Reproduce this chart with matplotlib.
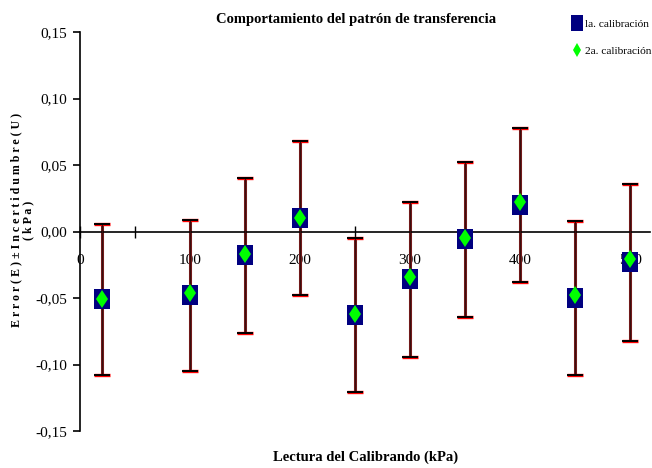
import matplotlib
matplotlib.use('Agg')
import matplotlib.pyplot as plt
from matplotlib.ticker import MultipleLocator, FuncFormatter

plt.rcParams['font.family'] = ['Liberation Serif', 'DejaVu Serif']

# Lectura del calibrando (kPa)
lectura = [20, 100, 150, 200, 250, 300, 350, 400, 450, 500]
# Error de cada calibración (kPa)
error_1a = [-0.051, -0.048, -0.018, 0.010, -0.063, -0.036, -0.006, 0.020, -0.050, -0.023]
error_2a = [-0.051, -0.046, -0.017, 0.010, -0.062, -0.034, -0.005, 0.022, -0.048, -0.021]
# Incertidumbre expandida U (kPa)
incert = [0.057, 0.057, 0.058, 0.058, 0.058, 0.058, 0.058, 0.058, 0.058, 0.059]

fig = plt.figure(figsize=(6.52, 4.68), dpi=100)
ax = fig.add_axes([0.1227, 0.079, 0.874, 0.8526])

# barras de incertidumbre: rojas debajo, negras encima
eb2 = ax.errorbar(lectura, error_1a, yerr=incert, fmt='none', ecolor='#7a1c1c',
                  elinewidth=2.2, capsize=6, capthick=2.4, zorder=2)
for c in eb2[1]:
    c.set_color('red')
    c.set_markeredgecolor('red')
eb1 = ax.errorbar(lectura, error_1a, yerr=incert, fmt='none', ecolor='#3a0e0e',
                  elinewidth=0.9, capsize=6, capthick=1.4, zorder=3)
for c in eb1[1]:
    c.set_color('black')
    c.set_markeredgecolor('black')

rect = [(-0.75, -1), (0.75, -1), (0.75, 1), (-0.75, 1), (-0.75, -1)]
ax.plot(lectura, error_1a, linestyle='none', marker=rect, markersize=15,
        color='#000080', markeredgewidth=0, zorder=4, label='la. calibración')
ax.plot(lectura, error_2a, linestyle='none', marker='d', markersize=9.5,
        color='#00ff00', markeredgewidth=0, zorder=5, label='2a. calibración')

ax.set_xlim(0, 518)
ax.set_ylim(-0.15, 0.15)

ax.spines['top'].set_visible(False)
ax.spines['right'].set_visible(False)
ax.spines['bottom'].set_position(('data', 0))
ax.spines['left'].set_linewidth(1.2)
ax.spines['bottom'].set_linewidth(1.2)

ax.xaxis.set_major_locator(MultipleLocator(50))
ax.xaxis.set_major_formatter(FuncFormatter(lambda v, p: f'{v:.0f}' if v % 100 == 0 else ''))
ax.yaxis.set_major_locator(MultipleLocator(0.05))
ax.yaxis.set_major_formatter(FuncFormatter(lambda v, p: f'{v:.2f}'.replace('.', ',').replace('-0,00', '0,00')))
ax.tick_params(axis='x', direction='inout', length=8, width=1, pad=12, labelsize=11)
ax.tick_params(axis='y', direction='out', length=5, width=1.2, pad=4, labelsize=11)

fig.text(0.546, 0.958, 'Comportamiento del patrón de transferencia', ha='center', va='center',
         fontsize=10.5, fontweight='bold')
fig.text(0.56, 0.022, 'Lectura del Calibrando (kPa)', ha='center', va='center',
         fontsize=10.5, fontweight='bold')
fig.text(0.034, 0.53, 'E r r o r ( E ) ± I n c e r t i d u m b r e ( U )\n( k P a )',
         rotation=90, ha='center', va='center', fontsize=8.6, fontweight='bold',
         linespacing=0.95)

ax.legend(loc='upper left', bbox_to_anchor=(0.857, 1.045), frameon=False, fontsize=8.2,
          markerscale=0.8, handlelength=0.8, handletextpad=0.3, labelspacing=1.5,
          borderaxespad=0)

fig.savefig('out.png', dpi=100)
